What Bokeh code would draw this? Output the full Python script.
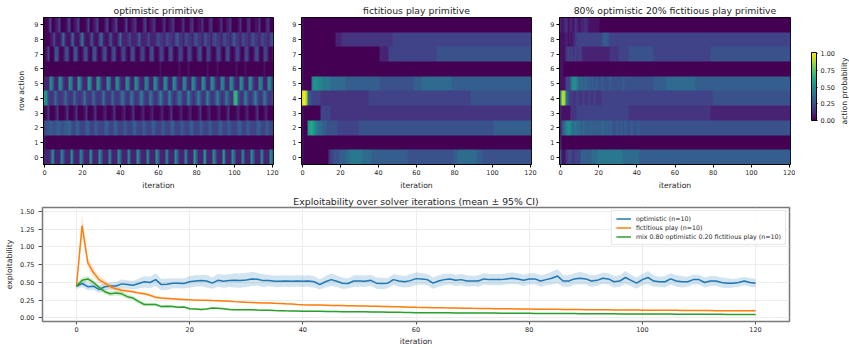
import numpy as np
from bokeh.plotting import figure
from bokeh.layouts import row, column
from bokeh.models import (Range1d, FixedTicker, LinearColorMapper, ColorBar,
                          Legend, LegendItem, LinearAxis, PrintfTickFormatter, ColumnDataSource)
from bokeh.palettes import Viridis256
from bokeh.embed import file_html
from bokeh.resources import INLINE

FONT = "DejaVu Sans"
N_ITER = 121
ITERATIONS = list(range(N_ITER))
ROW_ACTIONS = list(range(10))
X_TICKS = [0, 20, 40, 60, 80, 100, 120]
Y_TICKS_EXPL = [0.0, 0.25, 0.5, 0.75, 1.0, 1.25, 1.5]
CB_TICKS = [0.0, 0.25, 0.5, 0.75, 1.0]

# Heatmap cells: one character per iteration,
# value = LEVELS.index(ch) / 20 (steps of 0.05 action probability).
LEVELS = "0123456789ABCDEFGHIJK"

OPTIMISTIC = [  # row action 0 .. 9
    "2223A 62229 6222A 62229 6222A 6222A 62229 6222A 62229 6222A 62229 6222A 62229 6222A 62229 6222B 6222B 6222A 6222B 6222A 62229 6222A 62229 6222A 6",
    "10000 00000 00000 00000 00000 00000 00000 00000 00000 00000 00000 00000 00000 00000 00000 00000 00000 00000 00000 00000 00000 00000 00000 00000 0",
    "45565 55665 56675 44664 44664 44654 44664 44664 44654 44664 44654 44664 44654 44664 44654 44664 44654 44654 44664 44654 44664 44654 44664 44654 4",
    "01300 01300 01300 01300 01300 01300 01200 01300 01200 01300 01200 01200 01200 01300 01200 01200 01300 01200 01200 01300 01200 01200 01300 01200 0",
    "BA433 47433 47433 47433 48433 47433 48433 47433 58533 58533 59533 58533 59533 59533 58533 59533 59533 59533 59533 58533 DD533 59533 59533 58533 4",
    "222A7 322A8 322A8 322B8 322B9 322B8 322A8 322A8 322A8 322A8 32298 322A8 322A8 322A8 32298 322A8 322A8 322A8 32298 322A8 322A8 322A8 32298 322A8 3",
    "00000 00000 00000 00000 00000 00000 00000 00000 00000 00000 00000 00000 01000 00000 01000 01000 00000 01000 01000 00000 01000 01000 00000 01000 0",
    "01400 15510 14510 15510 14510 15510 14510 14510 14410 14510 14410 14510 14410 14510 14410 14410 14510 14410 14410 14510 14410 14410 14510 14410 1",
    "00012 62113 72114 92114 82113 82114 72113 72113 72223 62223 62223 62223 53324 53324 63324 53324 53324 63324 53324 53324 63324 53324 53324 53324 5",
    "00140 01240 00240 01240 00140 01240 00240 01240 00140 01230 00240 01230 00130 01230 00130 00230 01130 00230 00130 01230 00130 00230 01130 00230 0",
]

FICTITIOUS = [  # row action 0 .. 9
    "10000 00000 00003 44555 66677 88888 88777 77666 66666 66666 66666 65555 55555 55555 55555 55555 66777 77777 77666 55555 55555 55555 55555 55555 5",
    "10000 00000 00000 00000 00000 00000 00000 00000 00000 00000 00000 00000 00000 00000 00000 00000 00000 00000 00000 00000 00000 00000 00000 00000 0",
    "100AC CB987 76655 55554 44444 44444 55555 55555 55555 55555 55555 55555 55555 55555 55555 55555 55555 55555 55555 55555 56666 66666 66666 66666 6",
    "10000 00000 44444 33333 33333 33333 33333 33333 33333 33333 33333 33333 33333 33333 33333 33333 33333 33333 33333 33333 33333 33333 33333 33333 3",
    "JKH65 44444 33333 33333 33333 33333 33333 44444 44444 44444 44444 44444 44444 44444 44444 44444 44444 44445 55555 55555 55555 55555 55555 55555 5",
    "10000 7AAA9 98888 77777 77766 66666 66666 66666 65555 55555 55555 55556 66677 77777 77777 77776 66666 66666 66666 66666 66666 66666 66666 66666 6",
    "10000 00000 00000 00000 00000 00000 00000 00000 00000 00000 00000 00000 00000 00000 00000 00000 00000 00000 00000 00000 00000 00000 00000 00000 0",
    "10000 00000 00000 00000 00000 00000 00000 00000 02222 24444 44444 44444 44444 44444 45555 55555 55555 55555 55555 55555 55555 55555 55555 55555 5",
    "10000 00000 00000 00022 23333 33333 33333 33333 33333 33344 44444 44444 44444 44444 44444 44444 44444 44444 44444 44444 44444 44444 44444 44444 4",
    "10000 00000 00000 00000 00000 00000 00000 00000 00000 00000 00000 00000 00000 00000 00000 00000 00000 00000 00000 00000 00000 00000 00000 00000 0",
]

MIXED = [  # row action 0 .. 9
    "51134 54344 46666 66777 88888 88888 88877 77777 77666 66666 66666 66666 66666 66666 66666 66666 66666 66666 66666 66666 66666 66666 66666 66666 6",
    "20000 00000 00000 00000 00000 00000 00000 00000 00000 00000 00000 00000 00000 00000 00000 00000 00000 00000 00000 00000 00000 00000 00000 00000 0",
    "2579A A8787 76766 67666 66766 66655 65656 55655 56555 55555 55555 55555 55555 55555 55555 55555 55555 55555 55555 55555 55555 55555 55555 55555 5",
    "21111 13334 44444 44444 44444 44444 44444 43333 33333 33333 33333 33333 33333 33333 33333 33332 22222 22222 22222 22222 22222 22222 22222 22222 2",
    "8IH75 34334 33433 43343 33444 44444 44444 44444 44444 44444 44444 44444 44444 44444 44444 44444 55555 55555 55555 55555 55555 55555 55555 55555 5",
    "11144 48AA8 67676 65656 55655 56555 55565 55555 55555 55556 66666 67777 77777 77777 76666 66666 66666 66666 66666 66666 66666 66666 66666 66666 6",
    "11000 00000 00000 00000 00000 00000 00000 00000 00000 00000 00000 00000 00000 00000 00000 00000 00000 00000 00000 00000 00000 00000 00000 00000 0",
    "11134 34343 43222 22222 22222 23333 34444 45555 55555 55554 44444 44444 44444 44444 44444 44445 55555 55555 55555 55555 55555 55555 55555 55555 5",
    "11121 21234 44444 44444 44566 54444 44444 44444 44444 44444 44444 44444 44444 44444 44444 44444 44444 44444 44444 44444 44444 44444 44444 44444 4",
    "21231 22132 12232 11111 10000 00000 00000 00000 00000 00000 00000 00000 00000 00000 00000 00000 00000 00000 00000 00000 00000 00000 00000 00000 0",
]

HEAT_TITLES = ["optimistic primitive", "fictitious play primitive",
               "80% optimistic 20% fictitious play primitive"]
COLORBAR_LABEL = "action probability"

# Exploitability curves (mean and 95% CI half-width per iteration)
OPT_MEAN = [0.447, 0.485, 0.44, 0.447, 0.40, 0.44, 0.45, 0.45, 0.48, 0.47,
            0.46, 0.485, 0.51, 0.50, 0.54, 0.47, 0.475, 0.49, 0.49, 0.485,
            0.51, 0.52, 0.526, 0.52, 0.49, 0.53, 0.517, 0.526, 0.53, 0.526,
            0.535, 0.55, 0.545, 0.526, 0.526, 0.517, 0.517, 0.52, 0.517, 0.52,
            0.517, 0.52, 0.51, 0.47, 0.51, 0.54, 0.517, 0.49, 0.485, 0.52,
            0.52, 0.517, 0.53, 0.49, 0.485, 0.49, 0.54, 0.52, 0.51, 0.526,
            0.554, 0.55, 0.54, 0.49, 0.52, 0.54, 0.55, 0.53, 0.54, 0.52,
            0.52, 0.52, 0.55, 0.54, 0.54, 0.54, 0.55, 0.56, 0.55, 0.53,
            0.55, 0.55, 0.52, 0.54, 0.56, 0.59, 0.52, 0.52, 0.55, 0.56,
            0.55, 0.52, 0.53, 0.56, 0.55, 0.51, 0.52, 0.57, 0.53, 0.49,
            0.54, 0.57, 0.52, 0.51, 0.51, 0.55, 0.52, 0.51, 0.51, 0.54,
            0.54, 0.50, 0.52, 0.52, 0.50, 0.49, 0.49, 0.50, 0.52, 0.50,
            0.49]
OPT_CI = [0.04, 0.05, 0.05, 0.05, 0.05, 0.05, 0.05, 0.06, 0.06, 0.06,
          0.06, 0.07, 0.08, 0.08, 0.09, 0.08, 0.08, 0.07, 0.07, 0.07,
          0.08, 0.08, 0.08, 0.09, 0.08, 0.09, 0.09, 0.09, 0.10, 0.10,
          0.10, 0.10, 0.09, 0.09, 0.08, 0.08, 0.08, 0.08, 0.08, 0.08,
          0.08, 0.08, 0.08, 0.07, 0.08, 0.09, 0.08, 0.08, 0.07, 0.08,
          0.08, 0.08, 0.08, 0.08, 0.08, 0.07, 0.08, 0.08, 0.08, 0.09,
          0.09, 0.08, 0.08, 0.08, 0.08, 0.08, 0.08, 0.08, 0.08, 0.08,
          0.07, 0.08, 0.08, 0.08, 0.08, 0.08, 0.08, 0.08, 0.08, 0.08,
          0.08, 0.08, 0.08, 0.08, 0.09, 0.10, 0.08, 0.08, 0.08, 0.09,
          0.08, 0.08, 0.08, 0.08, 0.08, 0.08, 0.08, 0.09, 0.08, 0.08,
          0.08, 0.09, 0.08, 0.07, 0.08, 0.08, 0.08, 0.08, 0.07, 0.07,
          0.07, 0.07, 0.07, 0.07, 0.07, 0.07, 0.06, 0.06, 0.06, 0.06,
          0.06]
FP_MEAN = [0.447, 1.30, 0.78, 0.64, 0.54, 0.49, 0.44, 0.41, 0.39, 0.38,
           0.37, 0.35, 0.34, 0.32, 0.29, 0.28, 0.275, 0.27, 0.265, 0.26,
           0.255, 0.252, 0.25, 0.248, 0.245, 0.244, 0.24, 0.235, 0.23, 0.226,
           0.22, 0.218, 0.215, 0.212, 0.21, 0.206, 0.203, 0.199, 0.196, 0.19,
           0.186, 0.184, 0.183, 0.181, 0.179, 0.177, 0.176, 0.174, 0.172, 0.171,
           0.169, 0.167, 0.165, 0.164, 0.162, 0.161, 0.159, 0.157, 0.155, 0.152,
           0.149, 0.147, 0.146, 0.145, 0.144, 0.142, 0.141, 0.140, 0.138, 0.137,
           0.135, 0.134, 0.133, 0.132, 0.131, 0.130, 0.129, 0.128, 0.127, 0.126,
           0.125, 0.124, 0.123, 0.122, 0.122, 0.121, 0.120, 0.119, 0.118, 0.118,
           0.117, 0.116, 0.116, 0.115, 0.114, 0.113, 0.113, 0.112, 0.111, 0.111,
           0.110, 0.109, 0.109, 0.108, 0.108, 0.107, 0.107, 0.106, 0.106, 0.105,
           0.105, 0.104, 0.104, 0.103, 0.103, 0.102, 0.102, 0.101, 0.101, 0.100,
           0.100]
FP_CI = [0.03, 0.16, 0.07, 0.06, 0.05, 0.05, 0.04, 0.03, 0.03, 0.025,
         0.02, 0.02, 0.02, 0.02, 0.018, 0.016, 0.015, 0.015, 0.014, 0.014,
         0.013, 0.013, 0.012, 0.012, 0.012, 0.012, 0.011, 0.011, 0.011, 0.011,
         0.010, 0.010, 0.010, 0.010, 0.010, 0.010, 0.010, 0.010, 0.010, 0.010,
         0.010, 0.010, 0.010, 0.010, 0.010, 0.010, 0.010, 0.010, 0.010, 0.010,
         0.010, 0.010, 0.010, 0.010, 0.010, 0.010, 0.010, 0.010, 0.010, 0.010,
         0.009, 0.009, 0.009, 0.009, 0.009, 0.009, 0.009, 0.009, 0.009, 0.009,
         0.009, 0.009, 0.009, 0.009, 0.009, 0.009, 0.009, 0.009, 0.009, 0.009,
         0.009, 0.009, 0.009, 0.009, 0.009, 0.009, 0.009, 0.009, 0.009, 0.009,
         0.008, 0.008, 0.008, 0.008, 0.008, 0.008, 0.008, 0.008, 0.008, 0.008,
         0.008, 0.008, 0.008, 0.008, 0.008, 0.008, 0.008, 0.008, 0.008, 0.008,
         0.008, 0.008, 0.008, 0.008, 0.008, 0.008, 0.008, 0.008, 0.008, 0.008,
         0.008]
MIX_MEAN = [0.447, 0.53, 0.55, 0.50, 0.43, 0.37, 0.34, 0.35, 0.34, 0.30,
            0.28, 0.23, 0.19, 0.19, 0.19, 0.16, 0.165, 0.16, 0.15, 0.155,
            0.13, 0.125, 0.12, 0.125, 0.14, 0.135, 0.13, 0.12, 0.115, 0.117,
            0.117, 0.115, 0.112, 0.11, 0.108, 0.105, 0.103, 0.10, 0.098, 0.097,
            0.095, 0.095, 0.094, 0.093, 0.092, 0.09, 0.09, 0.089, 0.088, 0.088,
            0.087, 0.086, 0.085, 0.084, 0.083, 0.082, 0.080, 0.079, 0.077, 0.076,
            0.075, 0.074, 0.074, 0.073, 0.073, 0.072, 0.072, 0.071, 0.071, 0.070,
            0.070, 0.069, 0.069, 0.068, 0.068, 0.067, 0.067, 0.066, 0.066, 0.065,
            0.065, 0.064, 0.064, 0.063, 0.063, 0.062, 0.062, 0.061, 0.061, 0.060,
            0.060, 0.059, 0.059, 0.058, 0.058, 0.058, 0.057, 0.057, 0.056, 0.056,
            0.056, 0.055, 0.055, 0.054, 0.054, 0.054, 0.053, 0.053, 0.053, 0.052,
            0.052, 0.052, 0.051, 0.051, 0.051, 0.050, 0.050, 0.050, 0.050, 0.049,
            0.049]
MIX_CI = [0.03, 0.04, 0.04, 0.04, 0.035, 0.035, 0.035, 0.035, 0.035, 0.03,
          0.03, 0.03, 0.025, 0.02, 0.02, 0.02, 0.02, 0.018, 0.018, 0.016,
          0.015, 0.014, 0.014, 0.013, 0.013, 0.013, 0.012, 0.012, 0.012, 0.012,
          0.011, 0.011, 0.011, 0.011, 0.011, 0.010, 0.010, 0.010, 0.010, 0.010,
          0.009, 0.009, 0.009, 0.009, 0.009, 0.009, 0.009, 0.009, 0.009, 0.009,
          0.008, 0.008, 0.008, 0.008, 0.008, 0.008, 0.008, 0.008, 0.008, 0.008,
          0.008, 0.008, 0.008, 0.008, 0.008, 0.008, 0.008, 0.008, 0.008, 0.008,
          0.007, 0.007, 0.007, 0.007, 0.007, 0.007, 0.007, 0.007, 0.007, 0.007,
          0.007, 0.007, 0.007, 0.007, 0.007, 0.007, 0.007, 0.007, 0.007, 0.007,
          0.007, 0.007, 0.007, 0.007, 0.007, 0.007, 0.007, 0.007, 0.007, 0.007,
          0.006, 0.006, 0.006, 0.006, 0.006, 0.006, 0.006, 0.006, 0.006, 0.006,
          0.006, 0.006, 0.006, 0.006, 0.006, 0.006, 0.006, 0.006, 0.006, 0.006,
          0.006]

SERIES_LABELS = ["optimistic (n=10)", "fictitious play (n=10)",
                 "mix 0.80 optimistic 0.20 fictitious play (n=10)"]
SERIES_COLORS = ["#1f77b4", "#ff7f0e", "#2ca02c"]

TEXT = "#262626"
MAPPER = LinearColorMapper(palette=Viridis256, low=0.0, high=1.0)

TOP_H = 192
TOP_BORDER = 17
BOTTOM_BORDER = 27


def decode(rows):
    out = []
    for r in rows:
        s = "".join(r.split())
        if len(s) != N_ITER:
            raise ValueError("row length %d" % len(s))
        out.append([LEVELS.index(c) / 20.0 for c in s])
    return np.array(out, dtype=float)


def style_axis(ax, tick_out=3, standoff=2, label_standoff=3):
    ax.major_label_text_font = FONT
    ax.major_label_text_font_size = "6.5px"
    ax.major_label_text_color = TEXT
    ax.axis_label_text_font = FONT
    ax.axis_label_text_font_size = "7.7px"
    ax.axis_label_text_font_style = "normal"
    ax.axis_label_text_color = TEXT
    ax.major_tick_in = 0
    ax.major_tick_out = tick_out
    ax.minor_tick_line_color = None
    ax.major_label_standoff = standoff
    ax.axis_label_standoff = label_standoff


def heat_fig(rows, title, bl, br, fw, ylabel=None):
    p = figure(width=bl + fw + br, height=TOP_H,
               x_range=Range1d(-0.5, 120.5), y_range=Range1d(-0.5, 9.5),
               min_border_left=bl, min_border_right=br,
               min_border_top=TOP_BORDER, min_border_bottom=BOTTOM_BORDER,
               output_backend="svg", toolbar_location=None)
    p.image(image=[decode(rows)], x=-0.5, y=-0.5, dw=N_ITER, dh=len(ROW_ACTIONS),
            color_mapper=MAPPER)
    p.title.text = title
    p.title.text_font = FONT
    p.title.text_font_size = "9.3px"
    p.title.text_font_style = "normal"
    p.title.text_color = TEXT
    p.title.align = "center"
    p.title.standoff = 3
    p.grid.visible = False
    p.outline_line_color = "black"
    p.outline_line_width = 1
    p.xaxis.ticker = FixedTicker(ticks=X_TICKS)
    p.yaxis.ticker = FixedTicker(ticks=ROW_ACTIONS)
    p.xaxis.axis_label = "iteration"
    if ylabel:
        p.yaxis.axis_label = ylabel
    for ax in (p.xaxis[0], p.yaxis[0]):
        style_axis(ax)
        ax.axis_line_color = "black"
        ax.major_tick_line_color = "black"
    p.yaxis[0].axis_label_standoff = 5
    return p


f1 = heat_fig(OPTIMISTIC, HEAT_TITLES[0], 43, 14, 230, "row action")
f2 = heat_fig(FICTITIOUS, HEAT_TITLES[1], 14, 14, 230)
f3 = heat_fig(MIXED, HEAT_TITLES[2], 14, 5, 231)

# colour bar panel: same frame height as the heat maps (so the row aligns);
# the y range is chosen so that 0..1 covers the bar's extent only.
FRAME_H = TOP_H - TOP_BORDER - BOTTOM_BORDER          # 148 px
BAR_BOTTOM_OFFSET = 44                                # px above frame bottom
BAR_H = 68
cb_lo = -BAR_BOTTOM_OFFSET / BAR_H
cb_hi = cb_lo + FRAME_H / BAR_H
cb = figure(width=42, height=TOP_H, x_range=Range1d(0, 1), y_range=Range1d(cb_lo, cb_hi),
            min_border_left=16, min_border_right=21,
            min_border_top=TOP_BORDER, min_border_bottom=BOTTOM_BORDER,
            x_axis_location=None, y_axis_location=None,
            output_backend="svg", toolbar_location=None)
cb.grid.visible = False
cb.outline_line_color = None
cbar = ColorBar(color_mapper=MAPPER, location=(0, BAR_BOTTOM_OFFSET), width=5, height=BAR_H,
                padding=0, margin=0, ticker=FixedTicker(ticks=[]),
                major_tick_line_color=None, minor_tick_line_color=None,
                bar_line_color="black", bar_line_width=1,
                border_line_color=None, background_fill_alpha=0)
cb.add_layout(cbar, "center")
cb_axis = LinearAxis(ticker=FixedTicker(ticks=CB_TICKS),
                     formatter=PrintfTickFormatter(format="%.2f"))
style_axis(cb_axis, tick_out=3, standoff=3)
cb_axis.axis_line_color = None
cb_axis.major_tick_line_color = "black"
cb.add_layout(cb_axis, "right")

# thin panel carrying the colour bar's label (left-side axis label reads upward)
cbl = figure(width=12, height=TOP_H, x_range=Range1d(0, 1), y_range=Range1d(0, 1),
             min_border_left=11, min_border_right=0,
             min_border_top=TOP_BORDER, min_border_bottom=BOTTOM_BORDER,
             x_axis_location=None, y_axis_location=None,
             output_backend="svg", toolbar_location=None)
cbl.grid.visible = False
cbl.outline_line_color = None
lab_axis = LinearAxis(ticker=FixedTicker(ticks=[]), axis_label=COLORBAR_LABEL)
style_axis(lab_axis, tick_out=0, standoff=0, label_standoff=1)
lab_axis.axis_line_color = None
lab_axis.major_tick_line_color = None
cbl.add_layout(lab_axis, "left")

# exploitability panel
p4 = figure(width=849, height=156, x_range=Range1d(-6, 126), y_range=Range1d(-0.05, 1.556),
            min_border_left=42, min_border_right=60, min_border_top=14, min_border_bottom=26,
            output_backend="svg", toolbar_location=None,
            title="Exploitability over solver iterations (mean \u00b1 95% CI)")
p4.title.text_font = FONT
p4.title.text_font_size = "9.3px"
p4.title.text_font_style = "normal"
p4.title.text_color = TEXT
p4.title.align = "center"
p4.title.standoff = 2
p4.outline_line_color = "#7a7a7a"
p4.outline_line_width = 1.5
p4.xaxis.ticker = FixedTicker(ticks=X_TICKS)
p4.yaxis.ticker = FixedTicker(ticks=Y_TICKS_EXPL)
p4.yaxis.formatter = PrintfTickFormatter(format="%.2f")
p4.xgrid.ticker = FixedTicker(ticks=X_TICKS)
p4.ygrid.ticker = FixedTicker(ticks=Y_TICKS_EXPL)
p4.grid.grid_line_color = "#e8e8e8"
p4.grid.grid_line_width = 0.8
p4.xaxis.axis_label = "iteration"
p4.yaxis.axis_label = "exploitability"
style_axis(p4.xaxis[0], tick_out=3, standoff=2, label_standoff=2)
style_axis(p4.yaxis[0], tick_out=4, standoff=4, label_standoff=3)
for ax in (p4.xaxis[0], p4.yaxis[0]):
    ax.axis_line_color = None
    ax.major_tick_line_color = "#555555"

items = []
for mean, ci, color, label in zip([OPT_MEAN, FP_MEAN, MIX_MEAN], [OPT_CI, FP_CI, MIX_CI],
                                  SERIES_COLORS, SERIES_LABELS):
    src = ColumnDataSource(dict(x=ITERATIONS, m=mean,
                                lo=[a - b for a, b in zip(mean, ci)],
                                hi=[a + b for a, b in zip(mean, ci)]))
    p4.varea(x="x", y1="lo", y2="hi", source=src, fill_color=color, fill_alpha=0.2)
    r = p4.line(x="x", y="m", source=src, line_color=color, line_width=1.5)
    items.append(LegendItem(label=label, renderers=[r]))

legend = Legend(items=items, location="top_right",
                label_text_font=FONT, label_text_font_size="6.3px", label_text_color=TEXT,
                glyph_width=15, glyph_height=7, label_height=7, label_standoff=5,
                spacing=2, padding=4, margin=3,
                border_line_color="#d0d0d0", border_line_width=1,
                background_fill_alpha=0.85)
p4.add_layout(legend)

layout = column(row(f1, f2, f3, cb, cbl), p4)
open("out.html", "w").write(file_html(layout, INLINE))
